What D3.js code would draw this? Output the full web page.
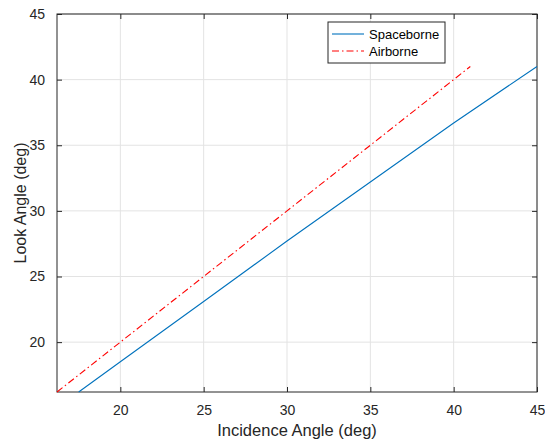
<!DOCTYPE html>
<html>
<head>
<meta charset="utf-8">
<script src="https://cdn.jsdelivr.net/npm/d3@7"></script>
<style>
  body { margin: 0; background: #fff; }
  svg { font-family: "Liberation Sans", Arial, sans-serif; }
  .tick text { fill: #262626; font-size: 14px; }
</style>
</head>
<body>
<svg id="chart" width="545" height="439"></svg>
<script>
// values
const spaceInc = [17.5, 20, 25, 30, 35, 40, 45];
const spaceLook = [16.2, 18.5, 23.1, 27.7, 32.2, 36.7, 41.0];
const airInc = [16.2, 20, 25, 30, 35, 40, 41];
const airLook = [16.2, 20, 25, 30, 35, 40, 41];
const xTicks = [20, 25, 30, 35, 40, 45];
const yTicks = [20, 25, 30, 35, 40, 45];

const margin = { top: 14, right: 8, bottom: 47, left: 57 };
const W = 545, H = 439;
const width = W - margin.left - margin.right,
  height = H - margin.top - margin.bottom;

const svg = d3.select("#chart");
const g = svg.append("g")
  .attr("transform", "translate(" + margin.left + "," + margin.top + ")");

const x = d3.scaleLinear().domain([16.2, 45]).range([0, width]);
const y = d3.scaleLinear().domain([16.2, 45]).range([height, 0]);

// grid
g.append("g").selectAll("line").data(xTicks).join("line")
  .attr("x1", d => x(d)).attr("x2", d => x(d))
  .attr("y1", 0).attr("y2", height)
  .attr("stroke", "#e3e3e3");
g.append("g").selectAll("line").data(yTicks).join("line")
  .attr("y1", d => y(d)).attr("y2", d => y(d))
  .attr("x1", 0).attr("x2", width)
  .attr("stroke", "#e3e3e3");

// axes, ticks inward on all four sides
function styleAxis(sel) {
  sel.select(".domain").remove();
  sel.selectAll(".tick line").attr("stroke", "#262626");
}
g.append("g").attr("transform", "translate(0," + height + ")")
  .call(d3.axisBottom(x).tickValues(xTicks).tickSize(-5).tickPadding(13))
  .call(styleAxis);
g.append("g")
  .call(d3.axisTop(x).tickValues(xTicks).tickSize(-5).tickFormat(""))
  .call(styleAxis);
g.append("g")
  .call(d3.axisLeft(y).tickValues(yTicks).tickSize(-5).tickPadding(12))
  .call(styleAxis);
g.append("g").attr("transform", "translate(" + width + ",0)")
  .call(d3.axisRight(y).tickValues(yTicks).tickSize(-5).tickFormat(""))
  .call(styleAxis);

g.append("rect")
  .attr("width", width).attr("height", height)
  .attr("fill", "none").attr("stroke", "#262626").attr("stroke-width", 1);

// lines
const line = d3.line().x(d => x(d[0])).y(d => y(d[1]));
g.append("path")
  .datum(d3.zip(spaceInc, spaceLook))
  .attr("d", line)
  .attr("fill", "none").attr("stroke", "#0072BD").attr("stroke-width", 1.1);
g.append("path")
  .datum(d3.zip(airInc, airLook))
  .attr("d", line)
  .attr("fill", "none").attr("stroke", "#ff0000").attr("stroke-width", 1.1)
  .attr("stroke-dasharray", "7,3,1.5,3");

// labels
svg.append("text")
  .attr("x", margin.left + width / 2).attr("y", 436)
  .attr("text-anchor", "middle").attr("font-size", 16.5).attr("fill", "#262626")
  .text("Incidence Angle (deg)");
svg.append("text")
  .attr("transform", "translate(26," + (margin.top + height / 2) + ") rotate(-90)")
  .attr("text-anchor", "middle").attr("font-size", 16).attr("fill", "#262626")
  .text("Look Angle (deg)");

// legend
const legend = svg.append("g").attr("transform", "translate(328,22)");
legend.append("rect")
  .attr("width", 117).attr("height", 41)
  .attr("fill", "#fff").attr("stroke", "#262626").attr("stroke-width", 1);
const items = [
  { name: "Spaceborne", color: "#0072BD", dash: null },
  { name: "Airborne", color: "#ff0000", dash: "7,3,1.5,3" },
];
items.forEach((d, i) => {
  const yy = 12 + i * 17;
  legend.append("line")
    .attr("x1", 4).attr("x2", 36).attr("y1", yy).attr("y2", yy)
    .attr("stroke", d.color).attr("stroke-width", 1.1)
    .attr("stroke-dasharray", d.dash);
  legend.append("text")
    .attr("x", 41).attr("y", yy + 4.5)
    .attr("font-size", 13).attr("fill", "#000")
    .text(d.name);
});
</script>
</body>
</html>
